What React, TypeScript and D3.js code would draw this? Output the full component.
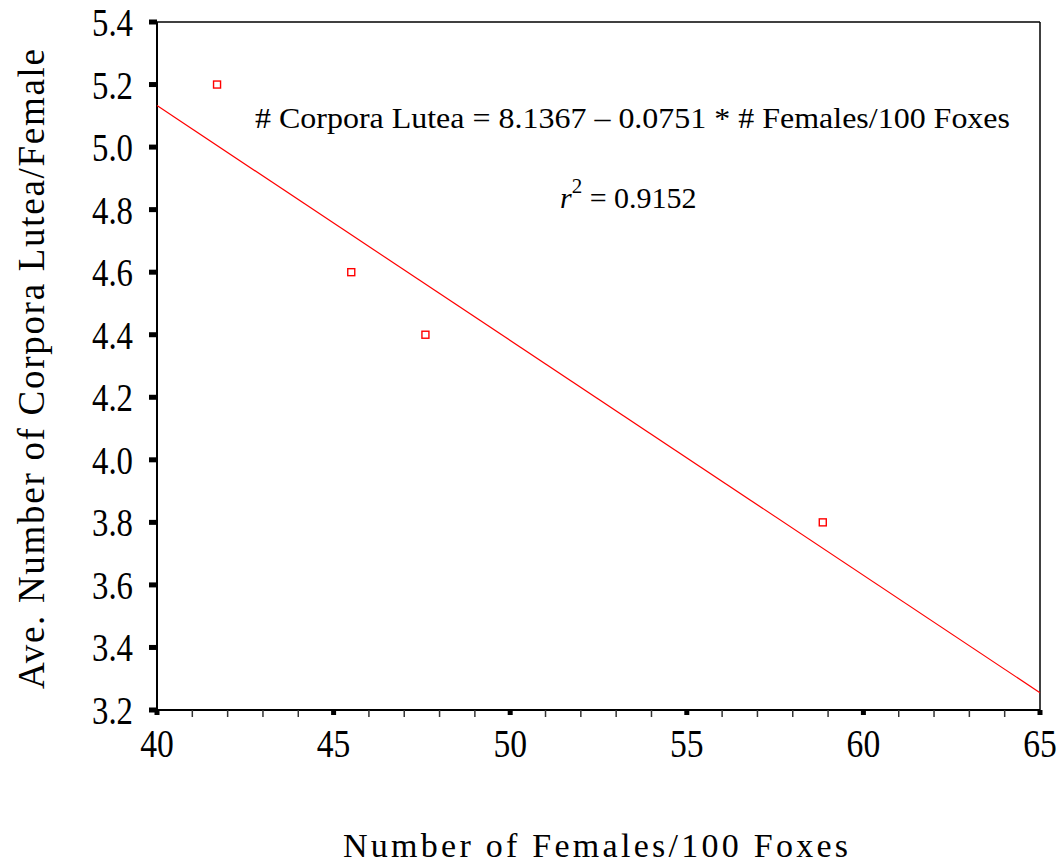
import React from "react";
import * as d3 from "d3";

const femalesPer100 = [41.7, 45.5, 47.6, 58.85];
const corporaLutea = [5.2, 4.6, 4.4, 3.8];
const xTicks = [40, 45, 50, 55, 60, 65];
const xMinorTicks = d3.range(40, 65, 1).filter((v) => v % 5 !== 0);
const yTicks = [3.2, 3.4, 3.6, 3.8, 4.0, 4.2, 4.4, 4.6, 4.8, 5.0, 5.2, 5.4];
const intercept = 8.1367;
const slope = -0.0751;

const W = 1060;
const H = 865;
const left = 157;
const right = 1040;
const top = 22;
const bottom = 710;

const serif = { fontFamily: "Liberation Serif, Times New Roman, Times, serif" };

export default function App() {
  const x = d3.scaleLinear().domain([40, 65]).range([left, right]);
  const y = d3.scaleLinear().domain([3.2, 5.4]).range([bottom, top]);

  const fitLine = d3
    .line<number>()
    .x((d) => x(d))
    .y((d) => y(intercept + slope * d));

  return (
    <svg
      width={W}
      height={H}
      style={{ position: "absolute", left: 0, top: 0, background: "#fff" }}
    >
      {/* frame */}
      <line x1={left} x2={right} y1={top} y2={top} stroke="#000" strokeWidth={1.5} />
      <line x1={right} x2={right} y1={top} y2={bottom} stroke="#000" strokeWidth={1.5} />
      <line x1={left} x2={left} y1={top} y2={bottom + 1} stroke="#000" strokeWidth={2} />
      <line x1={left} x2={right} y1={bottom} y2={bottom} stroke="#000" strokeWidth={2} />

      {/* y ticks */}
      {yTicks.map((t) => (
        <g key={"y" + t}>
          <rect x={left - 8} y={y(t) - 2.5} width={8} height={5} fill="#000" />
          <text
            transform={`translate(${left - 24},${y(t) + 14}) scale(0.8,1)`}
            textAnchor="end"
            style={serif}
            fontSize={41}
            fill="#000"
          >
            {t.toFixed(1)}
          </text>
        </g>
      ))}

      {/* x minor ticks */}
      {xMinorTicks.map((t) => (
        <line
          key={"m" + t}
          x1={x(t)}
          x2={x(t)}
          y1={bottom}
          y2={bottom + 7}
          stroke="#333"
          strokeWidth={1.5}
        />
      ))}

      {/* x ticks */}
      {xTicks.map((t) => (
        <g key={"x" + t}>
          <rect x={x(t) - 2.5} y={bottom} width={5} height={5} fill="#000" />
          <text
            transform={`translate(${x(t)},${757}) scale(0.82,1)`}
            textAnchor="middle"
            style={serif}
            fontSize={41}
            fill="#000"
          >
            {t}
          </text>
        </g>
      ))}

      {/* fit line */}
      <path d={fitLine([40, 65]) ?? ""} fill="none" stroke="#ff0000" strokeWidth={1.2} />

      {/* points */}
      {femalesPer100.map((v, i) => (
        <rect
          key={"p" + i}
          x={x(v) - 3.5}
          y={y(corporaLutea[i]) - 3.5}
          width={7}
          height={7}
          fill="#fff"
          stroke="#ff0000"
          strokeWidth={1.4}
        />
      ))}

      {/* annotations */}
      <text x={255} y={128} style={serif} fontSize={30} textLength={755} lengthAdjust="spacingAndGlyphs" fill="#000">
        # Corpora Lutea = 8.1367 – 0.0751 * # Females/100 Foxes
      </text>
      <text x={560} y={208} style={serif} fontSize={30} fill="#000">
        <tspan fontStyle="italic">r</tspan>
        <tspan fontSize={21} dy={-15}>2</tspan>
        <tspan dy={15}> = 0.9152</tspan>
      </text>

      {/* axis titles */}
      <text
        x={343}
        y={857}
        style={serif}
        fontSize={34}
        textLength={505}
        lengthAdjust="spacing"
        fill="#000"
      >
        Number of Females/100 Foxes
      </text>
      <text
        transform={`translate(44,689) rotate(-90)`}
        style={serif}
        fontSize={37}
        textLength={640}
        lengthAdjust="spacing"
        fill="#000"
      >
        Ave. Number of Corpora Lutea/Female
      </text>
    </svg>
  );
}
